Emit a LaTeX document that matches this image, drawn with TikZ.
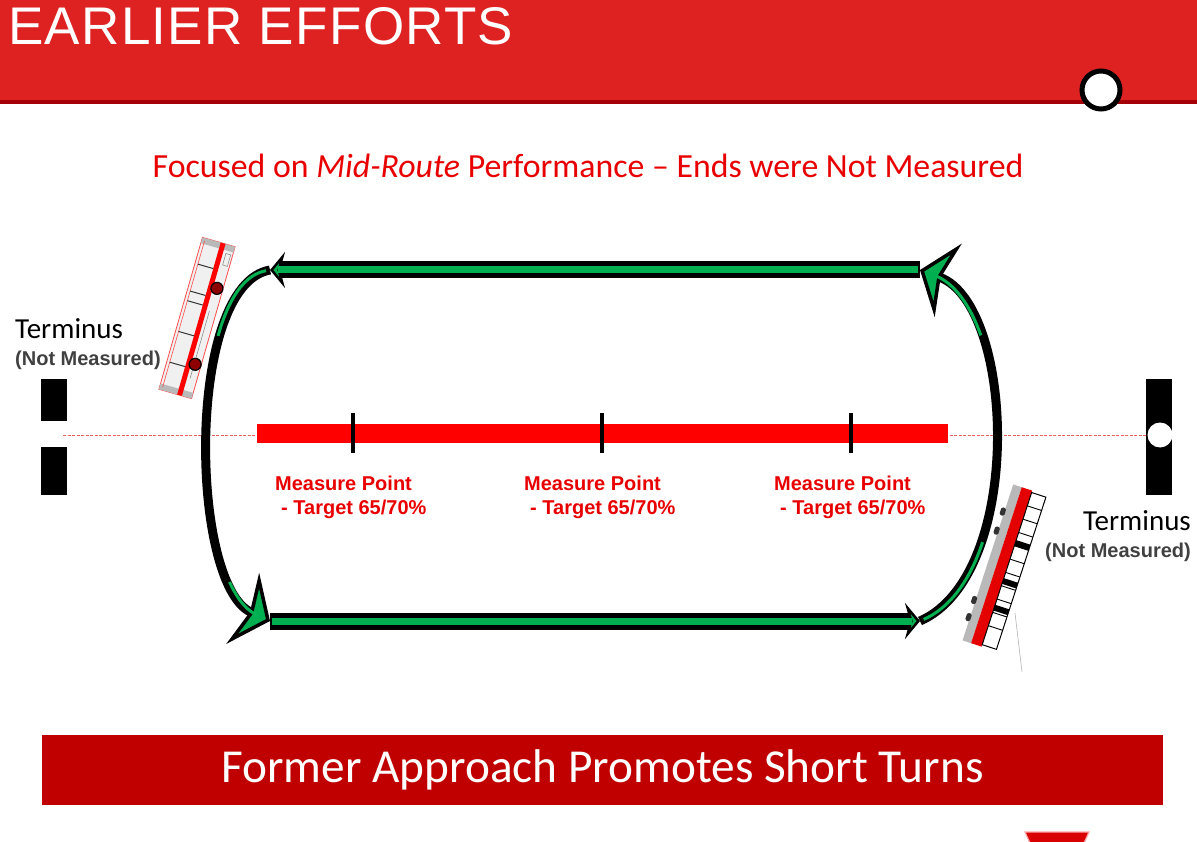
\documentclass[tikz,border=0pt]{standalone}
\usepackage{fontspec}
\usetikzlibrary{arrows.meta}
\newfontfamily\carlito{Carlito}
\newfontfamily\arialf{Liberation Sans}
\newfontfamily\titlef[LetterSpace=2.5]{Liberation Sans}
\definecolor{hdrred}{RGB}{222,33,33}
\definecolor{hdrdark}{RGB}{165,0,8}
\definecolor{txtred}{RGB}{232,0,0}
\definecolor{barred}{RGB}{255,0,0}
\definecolor{bannerred}{RGB}{192,0,0}
\definecolor{loopgreen}{RGB}{0,176,80}
\definecolor{notegray}{RGB}{64,64,64}
\definecolor{dashred}{RGB}{236,96,96}
\begin{document}
\begin{tikzpicture}[x=1pt, y=-1pt,
  lineout/.style={black, line width=17pt, -{Stealth[length=15pt, width=36pt, inset=5pt, fill=loopgreen, line width=3pt]}},
  linein/.style={loopgreen, line width=7pt, shorten <=2pt, shorten >=8pt},
  curveout/.style={black, line width=9pt, -{Stealth[length=30pt, width=78pt, inset=8pt, fill=loopgreen, line width=3.5pt]}},
  curvein/.style={loopgreen, line width=3pt, shorten <=4pt, shorten >=15pt},
  mplabel/.style={anchor=base west, inner sep=0pt, align=left, text=txtred, font=\arialf\bfseries\fontsize{20}{24}\selectfont},
  termlabel/.style={inner sep=0pt, font=\carlito\fontsize{29}{34}\selectfont},
  notelabel/.style={inner sep=0pt, text=notegray, font=\arialf\bfseries\fontsize{20}{24}\selectfont},
  stopbar/.style={fill=black, inner sep=0pt, minimum width=26pt},
  mptick/.style={black, line width=3.5pt}]
\useasboundingbox (0,0) rectangle (1197,842);

% header
\fill[hdrred] (0,0) rectangle (1197,100);
\fill[hdrdark] (0,100) rectangle (1197,104);
\node (title) [anchor=base west, inner sep=0pt, text=white, font=\titlef\fontsize{53}{60}\selectfont] at (8,45) {EARLIER EFFORTS};
\node (dot) [circle, draw=black, fill=white, line width=5pt, minimum size=38pt] at (1101,90) {};
\node (sub) [anchor=base, inner sep=0pt, text=txtred, font=\carlito\fontsize{33.8}{40}\selectfont] at (588,178) {Focused on \textit{Mid-Route} Performance – Ends were Not Measured};

% termini
\node (stopLa) [stopbar, minimum height=42pt] at (54,400) {};
\node (stopLb) [stopbar, minimum height=48pt] at (54,471) {};
\coordinate (stopL) at (63,435);
\node (termL) [termlabel, anchor=base west] at (15,339) {Terminus};
\node (noteL) [notelabel, anchor=base west] at (15,365) {(Not Measured)};
\node (stopR) [stopbar, minimum height=116pt] at (1159,437) {};
\node (stopRdot) [circle, fill=white, inner sep=0pt, minimum size=25pt] at (1160,435) {};
\node (termR) [termlabel, anchor=base east] at (1191,530) {Terminus};
\node (noteR) [notelabel, anchor=base east] at (1191,557) {(Not Measured)};
\draw[dashred, line width=1pt, dash pattern=on 3pt off 1.5pt] (stopL) -- (stopRdot.west);

% route and measure points
\node (route) [fill=barred, inner sep=0pt, minimum width=691pt, minimum height=19pt] at (602.5,433.5) {};
\draw[mptick] (353,413) -- (353,453);
\draw[mptick] (602,413) -- (602,453);
\draw[mptick] (851,413) -- (851,453);
\node (mp1) [mplabel] at (275,514) {Measure Point\\\hspace*{6pt}- Target 65/70\%};
\node (mp2) [mplabel] at (524,514) {Measure Point\\\hspace*{6pt}- Target 65/70\%};
\node (mp3) [mplabel] at (774,514) {Measure Point\\\hspace*{6pt}- Target 65/70\%};

% left bus
\begin{scope}[shift={(197,318)}, rotate=-16]
  \filldraw[fill=gray!12, draw=red!70, line width=0.8pt] (-17,-79) rectangle (17,79);
  \fill[gray!55] (-17,-79) rectangle (17,-73);
  \fill[gray!55] (-17,73) rectangle (17,79);
  \fill[red] (2,-79) rectangle (7,79);
  \draw[red!70, line width=0.6pt] (-14,-76) -- (-14,76);
  \draw[black!80, line width=1pt] (-14,-52) -- (2,-52) (-14,-24) -- (2,-24) (-14,-14) -- (2,-14)
    (-14,18) -- (2,18) (-14,50) -- (2,50);
  \draw[gray, line width=0.5pt] (10,-70) rectangle (15,-58) (10,-10) -- (10,60);
  \filldraw[fill=red!55!black, draw=black, line width=1.2pt] (11,-34) circle (6);
  \filldraw[fill=red!55!black, draw=black, line width=1.2pt] (11,45) circle (6);
\end{scope}

% right bus
\begin{scope}[shift={(1005,568)}, rotate=-18]
  \fill[gray!55] (-18,-82) rectangle (-9,82);
  \fill[red!90!black] (-9,-82) rectangle (2,82);
  \filldraw[fill=white, draw=black, line width=1pt] (2,-80) rectangle (17,80);
  \foreach \k in {-66,-52,...,66} \draw[black, line width=0.9pt] (2,\k) -- (17,\k);
  \fill[black] (2,-30) rectangle (17,-24);
  \fill[black] (2,10) rectangle (17,16);
  \fill[black] (2,38) rectangle (17,44);
  \fill[black!80, rounded corners=1.5pt] (-22,-57) rectangle (-17,-49);
  \fill[black!80, rounded corners=1.5pt] (-22,-37) rectangle (-17,-29);
  \fill[black!80, rounded corners=1.5pt] (-22,36) rectangle (-17,44);
  \fill[black!80, rounded corners=1.5pt] (-22,54) rectangle (-17,62);
\end{scope}
\draw[gray!60, line width=0.6pt] (1015,613) -- (1022,672);

% loop
\coordinate (loopTL) at (270,270);
\coordinate (loopTR) at (920,270);
\coordinate (loopBL) at (270,621);
\coordinate (loopBR) at (920,621);
\draw[curveout] (loopTL) .. controls (185,285) and (190,584) .. (loopBL);
\draw[curvein, dash pattern=on 85pt off 250pt on 200pt] (loopTL) .. controls (185,285) and (190,584) .. (loopBL);
\draw[curveout] (loopBR) .. controls (1025,575) and (1015,305) .. (loopTR);
\draw[curvein, dash pattern=on 100pt off 210pt on 200pt] (loopBR) .. controls (1025,575) and (1015,305) .. (loopTR);
\draw[lineout] (loopTR) -- (loopTL);
\draw[linein] (loopTR) -- (loopTL);
\draw[lineout] (loopBL) -- (loopBR);
\draw[linein] (loopBL) -- (loopBR);

% banner
\node (banner) [fill=bannerred, inner sep=0pt, minimum width=1121pt, minimum height=70pt, text=white, font=\carlito\fontsize{47.3}{56}\selectfont] at (602.5,770) {Former Approach Promotes Short Turns};
\filldraw[fill=red!85!black, draw=red!35, line width=1.2pt] (1025,832) -- (1089,832) -- (1080,852) -- (1034,852) -- cycle;
\end{tikzpicture}
\end{document}
